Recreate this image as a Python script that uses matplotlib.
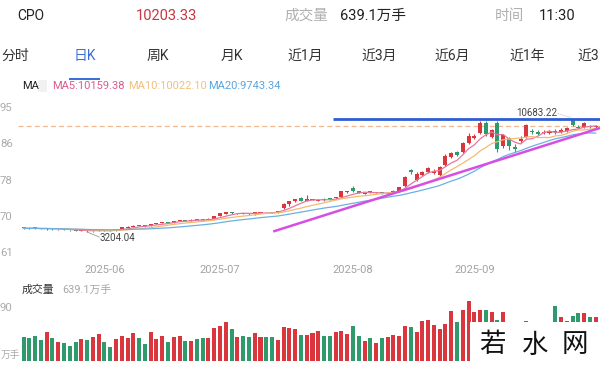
import numpy as np
import pandas as pd
import matplotlib
matplotlib.use("Agg")
import matplotlib.pyplot as plt
from matplotlib import patches

plt.rcParams['font.family'] = ['Roboto', 'Noto Sans CJK SC', 'DejaVu Sans']
plt.rcParams['axes.unicode_minus'] = False

# daily candles, 2025-05-13 .. 2025-09-30
opens = [3502, 3469, 3482, 3456, 3389, 3429, 3370, 3389, 3336, 3323,
         3283, 3303, 3244, 3283, 3323, 3303, 3303, 3403, 3482, 3548,
         3634, 3614, 3601, 3714, 3787, 3866, 3826, 3919, 3998, 3959,
         4032, 4012, 3985, 4078, 4263, 4396, 4495, 4429, 4462, 4409,
         4363, 4475, 4528, 4502, 4475, 4793, 5025, 5223, 5422, 5289,
         5322, 5289, 5402, 5422, 5422, 5488, 5832, 6084, 5885, 5733,
         5885, 5786, 5819, 5733, 5786, 5885, 6249, 7308, 6646, 6977,
         7176, 7110, 6977, 7639, 8169, 8500, 8500, 9096, 9427, 9725,
         10387, 9493, 10420, 8864, 9394, 8831, 9195, 9493, 9857, 9791,
         9758, 9771, 9890, 9824, 9890, 10585, 10155, 10122, 10221, 10122]
closes = [3449, 3436, 3456, 3403, 3429, 3389, 3396, 3336, 3317, 3297,
          3310, 3250, 3283, 3323, 3297, 3277, 3403, 3502, 3568, 3634,
          3601, 3588, 3734, 3800, 3866, 3826, 3932, 3998, 3959, 4025,
          3998, 3979, 4078, 4263, 4429, 4495, 4442, 4462, 4409, 4382,
          4495, 4515, 4495, 4462, 4594, 5058, 5223, 5356, 5289, 5356,
          5375, 5322, 5309, 5369, 5488, 5885, 5865, 5885, 5786, 5773,
          5786, 5819, 5753, 5786, 5951, 6150, 6812, 7176, 7044, 7176,
          7408, 7275, 7507, 8268, 8401, 8301, 9063, 9559, 9526, 10387,
          9692, 9923, 8699, 9592, 8864, 8666, 9328, 10254, 9791, 9705,
          9824, 9837, 9791, 9923, 10056, 10287, 10089, 10387, 10142, 10203.33]
highs = [3535, 3502, 3535, 3469, 3456, 3449, 3416, 3403, 3356, 3343,
         3323, 3317, 3303, 3343, 3343, 3323, 3422, 3522, 3595, 3661,
         3654, 3634, 3760, 3820, 3892, 3886, 3959, 4025, 4018, 4045,
         4051, 4032, 4098, 4290, 4475, 4541, 4521, 4488, 4482, 4429,
         4515, 4541, 4548, 4521, 4621, 5124, 5256, 5402, 5521, 5653,
         5402, 5349, 5428, 5448, 5514, 5918, 5905, 6249, 5912, 5799,
         5912, 5845, 5845, 5812, 5984, 6183, 6911, 7375, 7176, 7275,
         7507, 7342, 7573, 8368, 8467, 8566, 9162, 9758, 9692, 10552,
         10519, 10023, 10552, 9692, 9493, 9030, 9559, 10354, 10023, 9956,
         9956, 9956, 10023, 10056, 10155, 10683.22, 10254, 10486, 10320, 10320]
lows = [3403, 3403, 3403, 3370, 3363, 3350, 3350, 3317, 3297, 3277,
        3270, 3204.04, 3217, 3270, 3277, 3257, 3290, 3389, 3469, 3535,
        3581, 3568, 3588, 3701, 3773, 3806, 3813, 3906, 3939, 3945,
        3979, 3959, 3972, 4065, 4243, 4376, 4415, 4409, 4389, 4356,
        4343, 4455, 4475, 4442, 4462, 4727, 4958, 5190, 5256, 5256,
        5296, 5263, 5283, 5342, 5395, 5461, 5799, 5852, 5759, 5706,
        5759, 5759, 5726, 5706, 5759, 5852, 6183, 7044, 6580, 6911,
        7110, 7044, 6911, 7573, 8103, 8235, 8434, 9030, 9361, 9692,
        9559, 9427, 8500, 8765, 8632, 8500, 9096, 9427, 9692, 9625,
        9692, 9692, 9692, 9758, 9824, 10221, 9990, 10056, 10056, 10056]
# volume in 万手
volumes = [356, 332, 371, 307, 429, 332, 283, 259, 224, 283,
           317, 307, 356, 395, 273, 200, 317, 371, 332, 405,
           332, 249, 429, 322, 371, 273, 346, 371, 297, 297,
           322, 341, 341, 478, 517, 575, 463, 346, 366, 346,
           414, 346, 346, 346, 307, 493, 478, 463, 380, 380,
           405, 439, 371, 371, 419, 439, 395, 512, 371, 293,
           341, 268, 341, 356, 380, 371, 512, 502, 429, 590,
           600, 527, 468, 537, 736, 575, 746, 883, 712, 746,
           746, 712, 600, 712, 502, 478, 456, 590, 502, 456,
           478, 502, 809, 639, 590, 658, 698, 698, 648, 639.1]

month_idx = [14, 34, 57, 78]
month_labels = ['2025-06', '2025-07', '2025-08', '2025-09']
price_ticks = [11495, 9086.5, 6678, 4269.5, 1861]
price_tick_labels = ['95', '86', '78', '70', '61']
vol_ticks = [790]
vol_tick_labels = ['90']

last_price = 10203.33
low_idx, low_val = 11, 3204.04
high_idx, high_val = 95, 10683.22
# hand-drawn lines on the screenshot (index, price)
resist_x = [53.5, 99.74]
trend_x = [43.2, 99.74]
trend_y = [3237, 10089]

RED = '#d9363e'
GREEN = '#2f9a6c'

W, H = 600, 368


def fx(px):
    return px / W


def fy(py):
    return 1 - py / H


fig = plt.figure(figsize=(6, 3.68), dpi=100)
fig.patch.set_facecolor('white')

ax = fig.add_axes([0, fy(262), 1, (262 - 95) / H])
vax = fig.add_axes([0, fy(361), 1, (361 - 295) / H])

x = np.arange(len(closes))
o = np.array(opens, dtype=float)
c = np.array(closes, dtype=float)
up = c >= o
colors = np.where(up, RED, GREEN)

# candles
ax.vlines(x, lows, highs, colors=colors, lw=0.8, zorder=3)
body_lo = np.minimum(o, c)
body_h = np.maximum(np.abs(c - o), 60)
ax.bar(x, body_h, bottom=body_lo, width=0.7, color=colors, zorder=4)

# moving averages
s = pd.Series(closes)
ax.plot(x, s.rolling(5, min_periods=1).mean(), color='#e5779c', lw=0.9, zorder=5)
ax.plot(x, s.rolling(10, min_periods=1).mean(), color='#f2bb72', lw=0.9, zorder=5)
ax.plot(x, s.rolling(20, min_periods=1).mean(), color='#6cb0e2', lw=0.9, zorder=5)

# last price dashed line
ax.axhline(last_price, xmin=18 / W, xmax=1, color='#f1b98d', lw=0.9,
           dashes=(4, 2.5), zorder=2)

# drawn resistance / trend lines
ax.plot(resist_x, [high_val, high_val], color='#2f5ed2', lw=2, zorder=6,
        solid_capstyle='butt')
ax.plot(trend_x, trend_y, color='#d64fe2', lw=1.8, zorder=6,
        solid_capstyle='butt')

# extreme labels
ax.plot([low_idx, low_idx + 2.1], [low_val, low_val - 330], color='#9a9a9a', lw=0.6, zorder=6)
ax.text(low_idx + 2.2, low_val - 400, f'{low_val:.2f}', fontsize=7, color='#444444',
        ha='left', va='center', zorder=7)
ax.plot([high_idx - 2.6, high_idx - 0.2], [high_val + 360, high_val + 90],
        color='#c4c4c4', lw=0.6, ls=(0, (1.5, 1)), zorder=6)
ax.text(high_idx - 2.7, high_val + 390, f'{high_val:.2f}', fontsize=7, color='#444444',
        ha='right', va='center', zorder=7)

ax.set_xlim(-4.07, 99.74)
ax.set_ylim(1218, 12273)
for sp in ax.spines.values():
    sp.set_visible(False)
ax.set_yticks(price_ticks, labels=price_tick_labels)
ax.tick_params(axis='y', length=0, pad=0, labelsize=8.2, labelcolor='#ababab')
for t in ax.get_yticklabels():
    t.set_horizontalalignment('left')
ax.set_xticks(month_idx, labels=month_labels)
ax.tick_params(axis='x', length=0, pad=2, labelsize=8, labelcolor='#a3a3a3')
ax.set_facecolor('none')

# volume
vax.bar(x, volumes, width=0.7, color=colors)
vax.set_xlim(-4.07, 99.74)
vax.set_ylim(0, 965.6)
for sp in vax.spines.values():
    sp.set_visible(False)
vax.set_xticks([])
vax.set_yticks(vol_ticks, labels=vol_tick_labels)
vax.tick_params(axis='y', length=0, pad=0, labelsize=8.2, labelcolor='#ababab')
for t in vax.get_yticklabels():
    t.set_horizontalalignment('left')
vax.set_facecolor('none')
fig.text(fx(1), fy(355), '万手', fontsize=7, color='#ababab', ha='left', va='center')

# header
hy = fy(16)
fig.text(fx(17), hy, 'CPO', fontsize=10, color='#222222', va='center')
fig.text(fx(136), hy, '10203.33', fontsize=10.5, color='#c9363f', va='center')
fig.text(fx(284), hy, '成交量', fontsize=10.5, color='#b0b0b0', va='center')
fig.text(fx(340), hy, '639.1万手', fontsize=10.5, color='#222222', va='center')
fig.text(fx(495), hy, '时间', fontsize=10.5, color='#b0b0b0', va='center')
fig.text(fx(539), hy, '11:30', fontsize=10.5, color='#222222', va='center')

# tabs
ty = fy(56)
tabs = [('分时', 1, 'left'), ('日K', 85, 'center'), ('周K', 158, 'center'),
        ('月K', 232, 'center'), ('近1月', 305, 'center'), ('近3月', 379, 'center'),
        ('近6月', 452, 'center'), ('近1年', 527, 'center'), ('近3', 577, 'left')]
for label, px, ha in tabs:
    col = '#3d6fd8' if label == '日K' else '#333333'
    fig.text(fx(px), ty, label, fontsize=10, color=col, ha=ha, va='center')
fig.add_artist(patches.Rectangle((fx(69), fy(80)), 31 / W, 2.2 / H,
                                 transform=fig.transFigure, fc='#3d6fd8', ec='none'))

# MA legend row
my = fy(86)
fig.text(fx(22), my, 'MA', fontsize=8, color='#222222', va='center')
fig.add_artist(patches.Rectangle((fx(38), fy(92)), 9 / W, 12 / H,
                                 transform=fig.transFigure, fc='#f1f1f1', ec='none'))
fig.text(fx(52), my, 'MA5:10159.38', fontsize=8, color='#d95b8f', va='center')
fig.text(fx(128), my, 'MA10:10022.10', fontsize=8, color='#f0c080', va='center')
fig.text(fx(208), my, 'MA20:9743.34', fontsize=8, color='#5aa5dd', va='center')

# volume header
vy = fy(290)
fig.text(fx(22), vy, '成交量', fontsize=7.8, color='#333333', va='center')
fig.text(fx(62), vy, '639.1万手', fontsize=7.8, color='#a8a8a8', va='center')

# watermark
fig.add_artist(patches.Rectangle((fx(470), 0), (W - 470) / W, (368 - 322) / H,
                                 transform=fig.transFigure, fc='white', ec='none', zorder=10))
for ch, px in [('若', 492), ('水', 534), ('网', 575)]:
    fig.text(fx(px), fy(345), ch, fontsize=19, color='#111111', ha='center', va='center',
             family=['Noto Sans CJK SC'], weight='medium', zorder=11)

fig.savefig('out.png', dpi=100, facecolor='white')
plt.close(fig)
